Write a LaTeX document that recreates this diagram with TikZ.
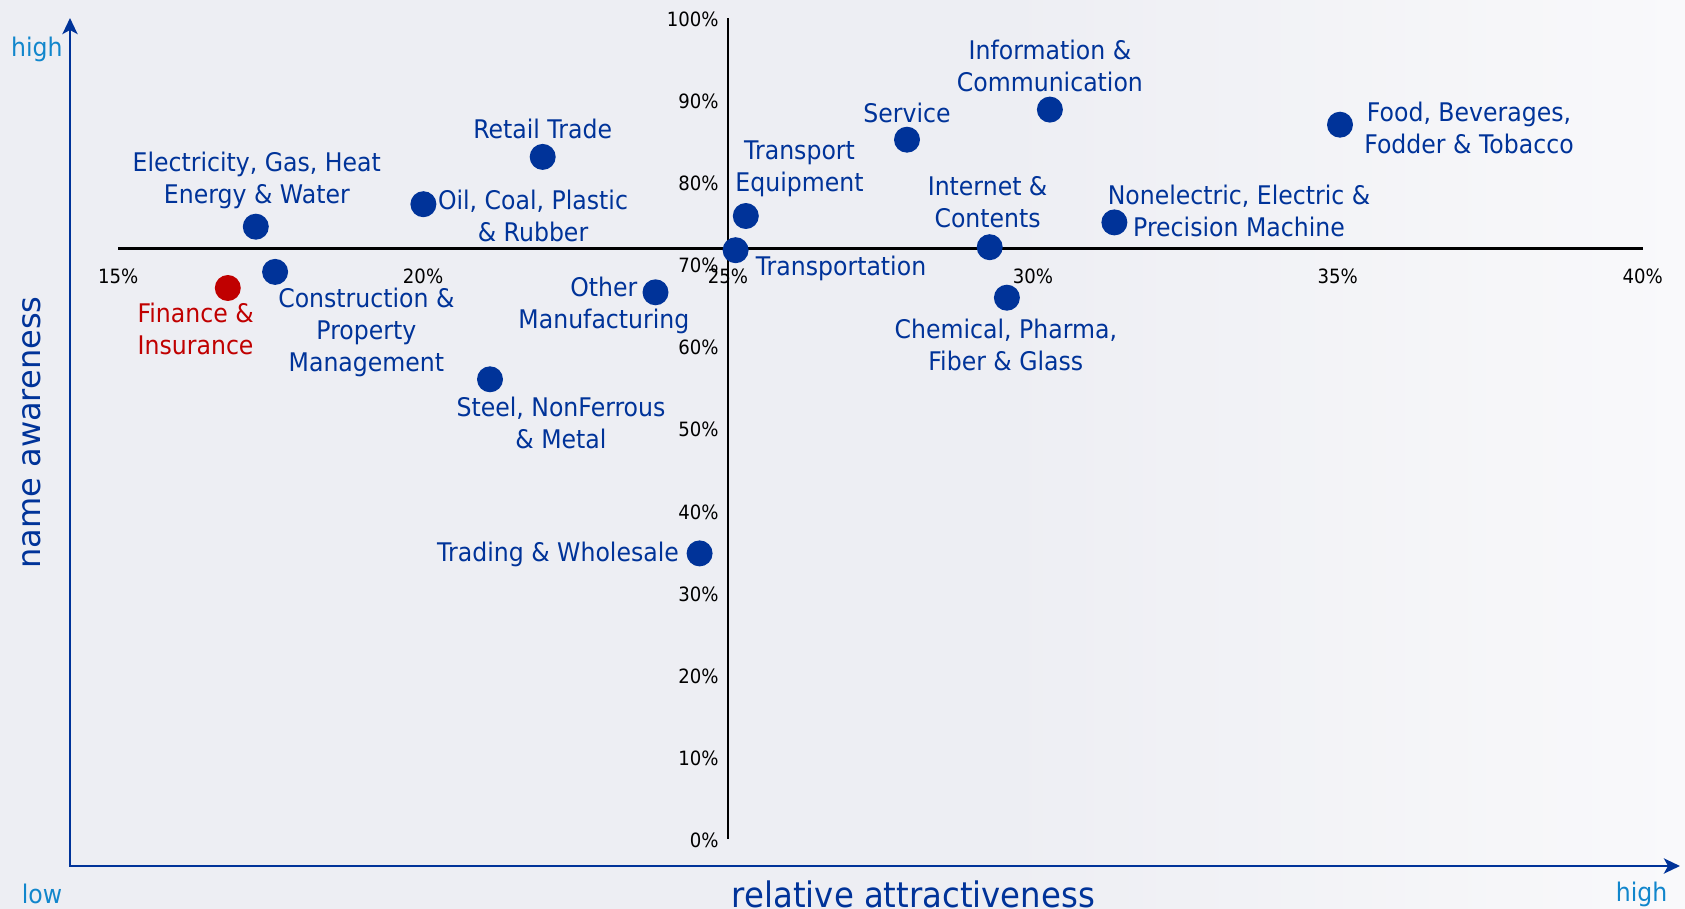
\documentclass[tikz,border=0pt]{standalone}
\usepackage{fontspec}
\setmainfont{DejaVu Sans}[FakeStretch=0.92]
\newfontfamily\widefont{DejaVu Sans}
\usetikzlibrary{arrows.meta}

\definecolor{darkblue}{RGB}{0,51,153}
\definecolor{finred}{RGB}{192,0,0}
\definecolor{lightblue}{RGB}{17,134,204}
\definecolor{bgleft}{RGB}{237,238,243}
\definecolor{bgright}{RGB}{249,249,251}

\newcommand{\lblfont}{\fontsize{14.6}{18.2}\selectfont}
\newcommand{\tickfont}{\fontsize{11.2}{14}\selectfont}

\tikzset{
  dot/.style={circle, fill=darkblue, inner sep=0pt, minimum size=0.52cm},
  sectorlbl/.style={text=darkblue, align=center, inner sep=0pt, font=\lblfont},
  ticklbl/.style={inner sep=0pt, font=\tickfont},
  mainaxis/.style={draw=darkblue, line width=1.7pt},
  quadline/.style={draw=black, line width=1.4pt},
  scalelbl/.style={text=lightblue, inner sep=0pt, anchor=base, font=\lblfont},
}

\begin{document}
\begin{tikzpicture}[x=0.02cm, y=-0.02cm]
    \fill[bgleft] (0,0) rectangle (1685,909);
    \shade[left color=bgleft, right color=bgright] (1000,0) rectangle (1685,909);
    \useasboundingbox (0,0) rectangle (1685,909);

    % axes
    \coordinate (origin) at (70,866);
    \coordinate (ytip) at (70,18);
    \coordinate (xtip) at (1680,866);
    \draw[mainaxis, {Stealth[length=0.32cm, width=0.3cm, inset=0.08cm]}-{Stealth[length=0.32cm, width=0.3cm, inset=0.08cm]}]
        (ytip) -- (origin) -- (xtip);

    % quadrant lines
    \coordinate (xl) at (118,248.3);
    \coordinate (xr) at (1643,248.3);
    \coordinate (yt) at (728,18.3);
    \coordinate (yb) at (728,839);
    \draw[quadline] (xl) -- (xr);
    \draw[quadline] (yt) -- (yb);

    \foreach \p [count=\i from 0] in {15,20,...,40}
        \node[ticklbl] (x\p) at (118.2+304.9*\i,276) {\p\%};
    \foreach \p [count=\i from 0] in {100,90,...,0}
        \node[ticklbl, anchor=east] (y\p) at (719,19.3+82.1*\i) {\p\%};

    % sectors
    \node[dot] (elec)     at (255.8,226.7) {};
    \node[dot] (constr)   at (275.1,271.9) {};
    \node[dot, fill=finred] (fin) at (227.8,288.0) {};
    \node[dot] (oil)      at (423.4,204.2) {};
    \node[dot] (retail)   at (542.7,156.9) {};
    \node[dot] (steel)    at (490.0,379.3) {};
    \node[dot] (othman)   at (655.5,292.3) {};
    \node[dot] (trading)  at (699.6,553.4) {};
    \node[dot] (transp)   at (735.6,250.2) {};
    \node[dot] (tequip)   at (745.8,216.0) {};
    \node[dot] (service)  at (907.0,139.7) {};
    \node[dot] (info)     at (1049.9,109.6) {};
    \node[dot] (internet) at (989.7,247.2) {};
    \node[dot] (chem)     at (1006.9,297.7) {};
    \node[dot] (nonel)    at (1114.4,222.4) {};
    \node[dot] (food)     at (1340.0,124.7) {};

    \node[sectorlbl] (elecl)     at (256.8,180.5) {Electricity, Gas, Heat\\Energy \& Water};
    \node[sectorlbl] (constrl)   at (366.4,332.1) {Construction \&\\Property\\Management};
    \node[sectorlbl, text=finred] (finl) at (195.6,328.8) {Finance \&\\Insurance};
    \node[sectorlbl] (oill)      at (533.0,215.5) {Oil, Coal, Plastic\\\& Rubber};
    \node[sectorlbl] (retaill)   at (542.7,129.0) {Retail Trade};
    \node[sectorlbl] (steell)    at (561.0,422.9) {Steel, NonFerrous\\\& Metal};
    \node[sectorlbl] (othmanl)   at (603.9,305.2) {Other\\Manufacturing};
    \node[sectorlbl, anchor=east] (tradingl) at (679.2,554.5) {Trading \& Wholesale};
    \node[sectorlbl, anchor=west] (transpl)  at (755.4,268.7) {Transportation};
    \node[sectorlbl] (tequipl)   at (799.5,169.3) {Transport\\Equipment};
    \node[sectorlbl] (servicel)  at (907.0,112.8) {Service};
    \node[sectorlbl] (infol)     at (1049.9,66.1) {Information \&\\Communication};
    \node[sectorlbl] (internetl) at (987.6,202.6) {Internet \&\\Contents};
    \node[sectorlbl] (cheml)     at (1005.8,344.9) {Chemical, Pharma,\\Fiber \& Glass};
    \node[sectorlbl] (nonell)    at (1239.0,210.6) {Nonelectric, Electric \&\\Precision Machine};
    \node[sectorlbl] (foodl)     at (1469.0,128.4) {Food, Beverages,\\Fodder \& Tobacco};

    % axis titles
    \node[rotate=90, anchor=base, inner sep=0pt, text=darkblue, font=\widefont\fontsize{18.25}{22}\selectfont] (ytitle) at (40.6,432.5) {name awareness};
    \node[anchor=base, inner sep=0pt, text=darkblue, font=\fontsize{20}{24}\selectfont] (xtitle) at (913.4,907) {relative attractiveness};
    \node[scalelbl] (yhigh) at (36.8,56.7) {high};
    \node[scalelbl] (xlow)  at (42,903.6) {low};
    \node[scalelbl] (xhigh) at (1641.6,901.7) {high};
\end{tikzpicture}
\end{document}
